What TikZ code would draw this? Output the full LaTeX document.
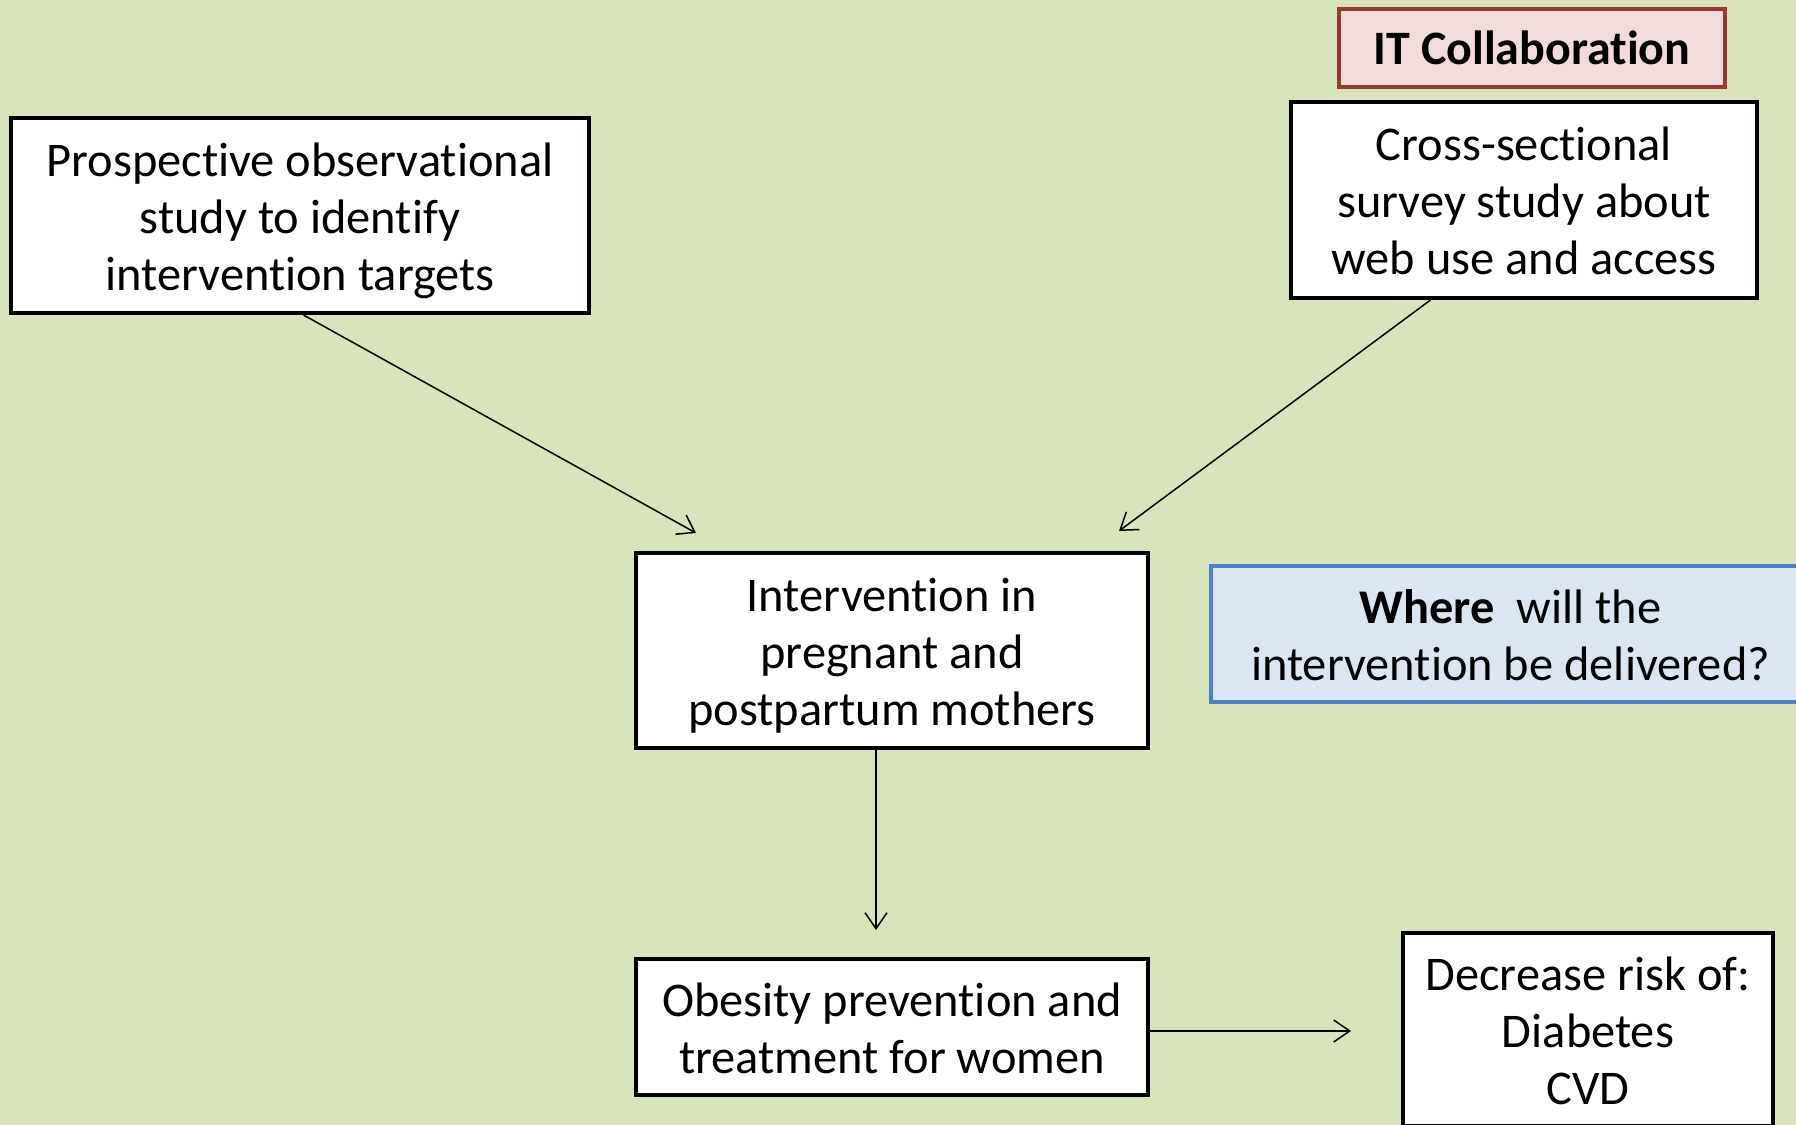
\documentclass[tikz,border=0pt]{standalone}
\usepackage{fontspec}
\setmainfont{Carlito}[Ligatures={NoCommon}]
\usetikzlibrary{arrows.meta}
\definecolor{bggreen}{HTML}{D8E4BC}
\definecolor{itfill}{HTML}{F2DCDB}
\definecolor{itdraw}{HTML}{953735}
\definecolor{qfill}{HTML}{DCE6F2}
\definecolor{qdraw}{HTML}{4F81BD}
% fixed height for the first line of each box text
\newcommand\topline{\rule{0pt}{25pt}}
\tikzset{
  plainbox/.style={draw=black, line width=2pt, fill=white, align=center,
    inner sep=0pt, font=\fontsize{24.2}{28.5}\selectfont},
  % fixed depth for the last line of each box text
  box/.style={plainbox,
    execute at end node={\rule[-7.5pt]{0pt}{7.5pt}}},
  flow/.style={line width=0.75pt, -{Straight Barb[length=8pt,width=11pt,line width=0.75pt]}}
}
\begin{document}
\begin{tikzpicture}[x=0.5pt, y=-0.5pt]
  \fill[bggreen] (0,0) rectangle (1796,1125);
  \useasboundingbox (0,0) rectangle (1796,1125);
  \clip (0,0) rectangle (1796,1125);

  % study boxes
  \node[box, minimum width=289pt, minimum height=97.5pt] (obs) at (300,215.5)
    {\topline Prospective observational\\ study to identify\\ intervention targets};
  \node[box, minimum width=233pt, minimum height=98pt] (survey) at (1524,200)
    {\topline Cross-sectional\\ survey study about\\ web use and access};
  \node[plainbox, draw=itdraw, fill=itfill, minimum width=193pt, minimum height=39pt,
    font=\fontsize{24}{29}\selectfont\bfseries] (it) at (1532,48) {IT Collaboration};

  % intervention and question
  \node[box, minimum width=256pt, minimum height=97.5pt] (interv) at (892,650.5)
    {\topline Intervention in\\ pregnant and\\ postpartum mothers};
  \node[box, draw=qdraw, fill=qfill, minimum width=299.5pt, minimum height=68pt] (where) at (1510.5,634)
    {\topline\textbf{Where}\ \ will the\\ intervention be delivered?};

  % outcomes
  \node[box, minimum width=256pt, minimum height=68pt] (obesity) at (892,1027)
    {\topline Obesity prevention and\\ treatment for women};
  \node[box, minimum width=185pt, minimum height=96.5pt] (risk) at (1588,1029.5)
    {\topline Decrease risk of:\\ Diabetes\\ CVD};

  % arrow ends
  \coordinate (obsTip) at (696,533);
  \coordinate (surveyTip) at (1119,531);
  \coordinate (intervTip) at (876,930);
  \coordinate (obesityTip) at (1351,1031);

  \draw[flow] ([xshift=1.75pt]obs.south) -- (obsTip);
  \draw[flow] ([xshift=-46.75pt]survey.south) -- (surveyTip);
  \draw[flow] ([xshift=-8pt]interv.south) -- (intervTip);
  \draw[flow] ([yshift=-2pt]obesity.east) -- (obesityTip);
\end{tikzpicture}
\end{document}
